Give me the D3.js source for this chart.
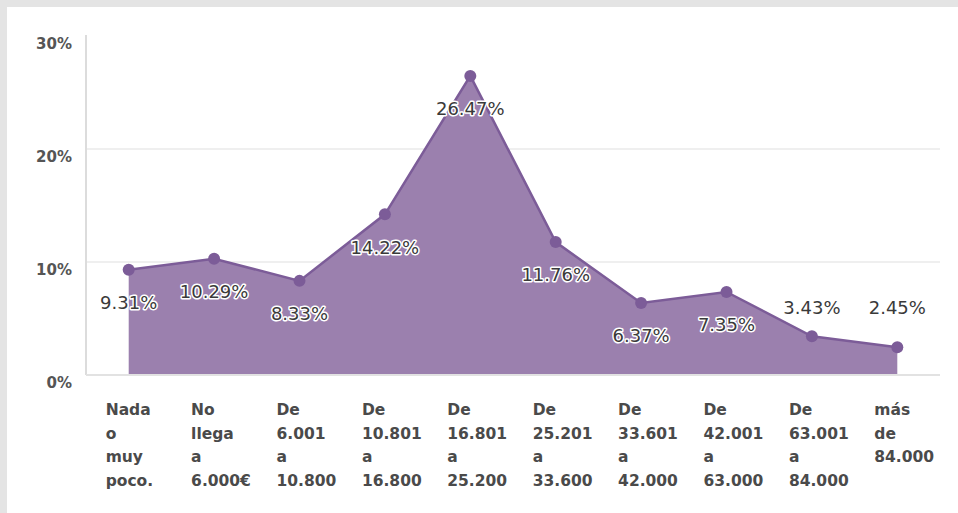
<!DOCTYPE html>
<html>
<head>
<meta charset="utf-8">
<script src="https://cdn.jsdelivr.net/npm/d3@7/dist/d3.min.js"></script>
<style>
  body { margin: 0; background: #e4e4e4; }
  svg { display: block; }
  .tick-label { font-family: "DejaVu Sans", sans-serif; font-weight: bold; font-size: 15px; fill: #555; }
  .cat-label { font-family: "DejaVu Sans", sans-serif; font-weight: bold; font-size: 15.5px; fill: #4a4a4a; }
  .value-label { font-family: "DejaVu Sans", sans-serif; font-size: 18px; fill: #3a3a3a;
                 stroke: #fff; stroke-width: 3px; paint-order: stroke; stroke-linejoin: round; }
</style>
</head>
<body>
<script>
// categories (income brackets), one array of lines per label
var categories = [
  ['Nada', 'o', 'muy', 'poco.'],
  ['No', 'llega', 'a', '6.000€'],
  ['De', '6.001', 'a', '10.800'],
  ['De', '10.801', 'a', '16.800'],
  ['De', '16.801', 'a', '25.200'],
  ['De', '25.201', 'a', '33.600'],
  ['De', '33.601', 'a', '42.000'],
  ['De', '42.001', 'a', '63.000'],
  ['De', '63.001', 'a', '84.000'],
  ['más', 'de', '84.000']
];
var values = [9.31, 10.29, 8.33, 14.22, 26.47, 11.76, 6.37, 7.35, 3.43, 2.45];
var yTicks = [0, 10, 20, 30];

var chartW = 958, chartH = 513;
var plotLeft = 86, plotRight = 940, plotTop = 36, plotBottom = 375;

var svg = d3.select('body').append('svg')
  .attr('width', chartW)
  .attr('height', chartH);

// white panel inside the grey frame
svg.append('rect')
  .attr('x', 7).attr('y', 7)
  .attr('width', chartW - 7).attr('height', chartH - 7)
  .attr('fill', '#fff');

var x = d3.scaleBand()
  .domain(d3.range(categories.length))
  .range([plotLeft, plotRight]);

var y = d3.scaleLinear()
  .domain([0, 30])
  .range([plotBottom, plotTop]);

var cx = function (i) { return x(i) + x.bandwidth() / 2; };

// gridlines
svg.append('g').selectAll('line')
  .data(yTicks.filter(function (t) { return t > 0 && t < 30; }))
  .enter().append('line')
  .attr('x1', plotLeft).attr('x2', plotRight)
  .attr('y1', function (d) { return y(d); })
  .attr('y2', function (d) { return y(d); })
  .attr('stroke', '#efefef')
  .attr('stroke-width', 2);

// y tick labels
svg.append('g').selectAll('text')
  .data(yTicks)
  .enter().append('text')
  .attr('class', 'tick-label')
  .attr('x', 72)
  .attr('y', function (d) { return y(d) + 13; })
  .attr('text-anchor', 'end')
  .text(function (d) { return d + '%'; });

// area + line
var area = d3.area()
  .x(function (d, i) { return cx(i); })
  .y0(y(0))
  .y1(function (d) { return y(d); });

var line = d3.line()
  .x(function (d, i) { return cx(i); })
  .y(function (d) { return y(d); });

svg.append('path')
  .datum(values)
  .attr('d', area)
  .attr('fill', '#9b80ae');

// axis lines
svg.append('line')
  .attr('x1', plotLeft).attr('x2', plotLeft)
  .attr('y1', plotTop - 1).attr('y2', plotBottom)
  .attr('stroke', '#dcdcdc')
  .attr('stroke-width', 2);

svg.append('line')
  .attr('x1', plotLeft).attr('x2', plotRight)
  .attr('y1', plotBottom).attr('y2', plotBottom)
  .attr('stroke', '#e2e2e2')
  .attr('stroke-width', 2);

svg.append('path')
  .datum(values)
  .attr('d', line)
  .attr('fill', 'none')
  .attr('stroke', '#7c5c98')
  .attr('stroke-width', 2.5);

svg.append('g').selectAll('circle')
  .data(values)
  .enter().append('circle')
  .attr('cx', function (d, i) { return cx(i); })
  .attr('cy', function (d) { return y(d); })
  .attr('r', 6)
  .attr('fill', '#7c5c98');

// value labels: below the point, above when too close to the baseline
var isAbove = function (d, i) { return i >= values.length - 2; };
var aboveY = d3.min(values.filter(isAbove), function (d) { return y(d); }) - 29;

svg.append('g').selectAll('text')
  .data(values)
  .enter().append('text')
  .attr('class', 'value-label')
  .attr('x', function (d, i) { return cx(i); })
  .attr('y', function (d, i) { return isAbove(d, i) ? aboveY : y(d) + 33; })
  .attr('dy', '0.35em')
  .attr('text-anchor', 'middle')
  .text(function (d) { return d.toFixed(2) + '%'; });

// category labels
var cats = svg.append('g').selectAll('text')
  .data(categories)
  .enter().append('text')
  .attr('class', 'cat-label')
  .attr('x', function (d, i) { return cx(i) - 23; })
  .attr('y', 415);

cats.selectAll('tspan')
  .data(function (d) { return d; })
  .enter().append('tspan')
  .attr('x', function () { return d3.select(this.parentNode).attr('x'); })
  .attr('dy', function (d, i) { return i === 0 ? 0 : 23.5; })
  .text(function (d) { return d; });
</script>
</body>
</html>
